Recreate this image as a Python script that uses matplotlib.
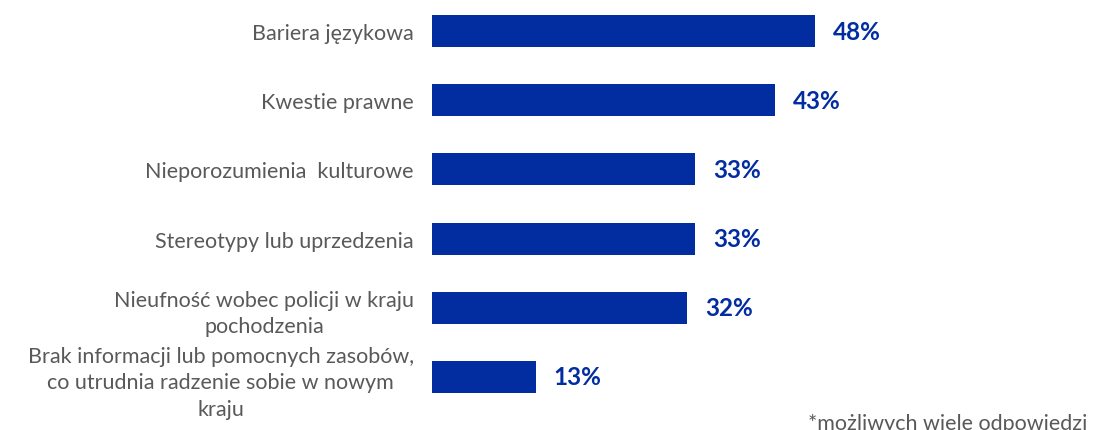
import matplotlib
matplotlib.use("Agg")
import matplotlib.pyplot as plt

plt.rcParams['font.family'] = ['Lato', 'DejaVu Sans']

# dane do wykresu
kategorie = [
    "Bariera językowa",
    "Kwestie prawne",
    "Nieporozumienia  kulturowe",
    "Stereotypy lub uprzedzenia",
    "Nieufność wobec policji w kraju\npochodzenia",
    "Brak informacji lub pomocnych zasobów,\nco utrudnia radzenie sobie w nowym\nkraju",
]
wartosci = [48, 43, 33, 33, 32, 13]

niebieski = "#022DA0"
szary = "#595959"

fig = plt.figure(figsize=(10.95, 4.31), dpi=100)
ax = fig.add_axes([0.3945, 0.0427, 0.4374, 0.9633])

pozycje = list(range(len(kategorie)))
ax.barh(pozycje, wartosci, height=0.46, color=niebieski)
ax.set_xlim(0, 60)
ax.set_ylim(len(kategorie) - 0.5, -0.5)

ax.set_yticks(pozycje)
ax.set_yticklabels(kategorie, fontsize=15.5, color=szary,
                   multialignment='center', linespacing=1.4)
ax.tick_params(axis='y', length=0, pad=13)
ax.set_xticks([])
for s in ax.spines.values():
    s.set_visible(False)

# etykiety wartosci przy slupkach
for y, v in zip(pozycje, wartosci):
    ax.annotate(f"{v}%", xy=(v, y), xytext=(13, 0), textcoords='offset points',
                va='center', ha='left', fontsize=17.5, fontweight='bold',
                color=niebieski)

fig.text(0.738, -0.008, "*możliwych wiele odpowiedzi", fontsize=15.5,
         color=szary, ha='left', va='bottom')

fig.savefig("out.png", dpi=100)
